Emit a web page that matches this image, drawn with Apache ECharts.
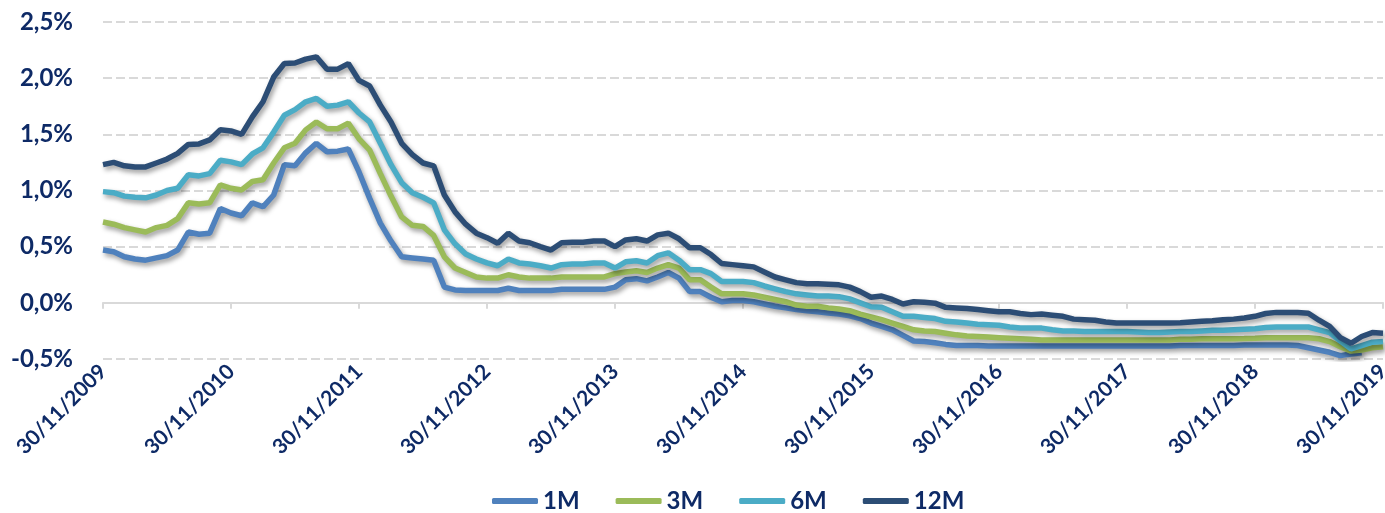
<!DOCTYPE html>
<html>
<head>
<meta charset="utf-8">
<script src="https://cdn.jsdelivr.net/npm/echarts@6/dist/echarts.min.js"></script>
<style>html,body{margin:0;padding:0;background:#fff}#c{width:1385px;height:513px}</style>
</head>
<body>
<div id="c"></div>
<script>
// Month-end dates from 30/11/2009 to 30/11/2019 (121 months)
function monthEnds(y0, m0, n) {
  var out = [];
  for (var k = 0; k < n; k++) {
    var m = m0 + k, y = y0 + Math.floor((m - 1) / 12), mm = ((m - 1) % 12) + 1;
    var d = new Date(y, mm, 0).getDate();
    out.push((d < 10 ? '0' : '') + d + '/' + (mm < 10 ? '0' : '') + mm + '/' + y);
  }
  return out;
}
var categories = monthEnds(2009, 11, 121);

var yTicks = [-0.5, 0, 0.5, 1, 1.5, 2, 2.5];
var seriesNames = ['1M', '3M', '6M', '12M'];

var m1 = [0.47,0.455,0.41,0.39,0.38,0.40,0.42,0.47,0.63,0.61,0.62,0.84,0.80,0.775,0.89,0.855,0.96,1.23,1.22,1.335,1.42,1.345,1.35,1.37,1.165,
0.93,0.71,0.55,0.41,0.40,0.39,0.38,0.14,0.115,0.11,0.11,0.11,0.11,0.13,0.11,0.11,0.11,0.11,0.12,0.12,0.12,0.12,0.12,
0.14,0.205,0.215,0.195,0.23,0.27,0.22,0.10,0.10,0.05,0.01,0.02,0.02,0.01,-0.01,-0.03,-0.045,-0.06,-0.07,-0.08,-0.09,-0.10,-0.115,-0.14,
-0.18,-0.21,-0.24,-0.29,-0.34,-0.345,-0.355,-0.37,-0.38,-0.38,-0.38,-0.385,-0.385,-0.385,-0.385,-0.385,-0.385,-0.385,-0.385,-0.385,-0.385,-0.385,
-0.385,-0.385,-0.385,-0.385,-0.385,-0.385,-0.385,-0.38,-0.38,-0.38,-0.38,-0.38,-0.38,-0.375,-0.375,-0.375,-0.375,-0.375,
-0.38,-0.40,-0.42,-0.44,-0.47,-0.455,-0.445];

var m3 = [0.72,0.70,0.67,0.65,0.63,0.67,0.69,0.75,0.89,0.88,0.89,1.05,1.02,1.005,1.08,1.095,1.245,1.38,1.42,1.54,1.61,1.55,1.55,1.60,1.46,
1.36,1.15,0.95,0.765,0.69,0.68,0.60,0.41,0.31,0.27,0.23,0.22,0.22,0.25,0.23,0.22,0.22,0.22,0.23,0.23,0.23,0.23,0.23,
0.26,0.275,0.285,0.27,0.31,0.34,0.31,0.205,0.205,0.14,0.08,0.08,0.08,0.07,0.05,0.03,0.01,-0.02,-0.03,-0.03,-0.045,-0.055,-0.07,-0.10,
-0.125,-0.15,-0.18,-0.21,-0.24,-0.25,-0.255,-0.27,-0.285,-0.295,-0.30,-0.305,-0.31,-0.315,-0.32,-0.325,-0.33,-0.33,-0.33,-0.33,-0.33,-0.33,
-0.33,-0.33,-0.33,-0.33,-0.33,-0.33,-0.33,-0.325,-0.325,-0.32,-0.32,-0.32,-0.32,-0.318,-0.315,-0.31,-0.31,-0.31,-0.31,-0.31,
-0.32,-0.345,-0.39,-0.43,-0.42,-0.40,-0.39];

var m6 = [0.99,0.98,0.95,0.94,0.935,0.96,1.00,1.02,1.14,1.13,1.15,1.27,1.255,1.23,1.325,1.38,1.52,1.67,1.72,1.79,1.82,1.75,1.76,1.79,1.69,
1.61,1.42,1.23,1.07,0.98,0.94,0.89,0.65,0.525,0.435,0.39,0.355,0.33,0.39,0.355,0.345,0.33,0.31,0.34,0.345,0.345,0.355,0.355,
0.31,0.365,0.375,0.355,0.42,0.445,0.38,0.295,0.295,0.26,0.19,0.19,0.19,0.18,0.15,0.125,0.10,0.08,0.07,0.06,0.06,0.055,0.035,0.0,
-0.035,-0.04,-0.08,-0.12,-0.12,-0.13,-0.14,-0.165,-0.17,-0.18,-0.19,-0.195,-0.20,-0.215,-0.225,-0.225,-0.225,-0.24,-0.25,-0.25,-0.255,-0.255,
-0.255,-0.255,-0.255,-0.26,-0.265,-0.265,-0.26,-0.255,-0.255,-0.25,-0.245,-0.245,-0.24,-0.235,-0.23,-0.22,-0.215,-0.215,-0.215,-0.215,
-0.24,-0.265,-0.34,-0.41,-0.38,-0.35,-0.345];

var m12 = [1.23,1.25,1.22,1.21,1.21,1.245,1.28,1.33,1.41,1.415,1.45,1.54,1.53,1.50,1.655,1.79,2.01,2.13,2.135,2.17,2.19,2.08,2.08,2.13,1.98,
1.93,1.76,1.61,1.42,1.32,1.245,1.22,0.96,0.81,0.70,0.62,0.58,0.53,0.62,0.55,0.535,0.50,0.47,0.535,0.54,0.54,0.55,0.55,
0.50,0.56,0.57,0.55,0.605,0.62,0.57,0.49,0.49,0.43,0.35,0.34,0.33,0.32,0.275,0.23,0.205,0.18,0.17,0.17,0.165,0.16,0.14,0.10,
0.05,0.06,0.03,-0.01,0.01,0.005,-0.003,-0.04,-0.045,-0.05,-0.06,-0.07,-0.08,-0.08,-0.095,-0.105,-0.10,-0.11,-0.12,-0.145,-0.15,-0.155,
-0.17,-0.18,-0.18,-0.18,-0.18,-0.18,-0.18,-0.177,-0.17,-0.165,-0.16,-0.15,-0.145,-0.135,-0.12,-0.095,-0.085,-0.085,-0.087,-0.092,
-0.155,-0.21,-0.31,-0.36,-0.30,-0.265,-0.27];

var seriesData = [m1, m3, m6, m12];
var colors = ['#4F81BD', '#9BBB59', '#4BACC6', '#2C4D75'];
var textColor = '#0E2A66';
var fontFam = 'Lato, "Open Sans", sans-serif';

function novLabel(v) { return v.slice(3, 5) === '11' ? '30/11/' + v.slice(6) : ''; }

var chart = echarts.init(document.getElementById('c'), null, {renderer: 'canvas'});
chart.setOption({
  animation: false,
  backgroundColor: '#ffffff',
  color: colors,
  grid: {left: 103, right: 2, top: 22, bottom: 154, containLabel: false, outerBoundsMode: 'none'},
  legend: {
    left: 487, top: 484,
    itemWidth: 46, itemHeight: 6, itemGap: 36,
    icon: 'roundRect',
    textStyle: {color: textColor, fontFamily: fontFam, fontWeight: 'bold', fontSize: 24},
    data: seriesNames
  },
  xAxis: [{
    type: 'category',
    data: categories,
    boundaryGap: false,
    position: 'bottom',
    axisLine: {show: false, onZero: false},
    axisTick: {show: false},
    axisLabel: {
      interval: 11, rotate: 45, margin: 9,
      color: textColor, fontFamily: fontFam, fontWeight: 'bold', fontSize: 21,
      formatter: novLabel
    },
    splitLine: {show: false}
  }, {
    type: 'category',
    data: categories,
    boundaryGap: false,
    position: 'bottom',
    axisLine: {show: true, onZero: true, lineStyle: {color: '#D9D9D9', width: 2}},
    axisTick: {show: true, interval: 11, length: 6, lineStyle: {color: '#D9D9D9', width: 2}},
    axisLabel: {show: false},
    splitLine: {show: false}
  }],
  yAxis: {
    type: 'value',
    min: -0.5, max: 2.5, interval: 0.5,
    axisLine: {show: false},
    axisTick: {show: false},
    axisLabel: {
      margin: 30,
      color: textColor, fontFamily: fontFam, fontWeight: 'bold', fontSize: 24,
      formatter: function (v) { return v.toFixed(1).replace('.', ',') + '%'; }
    },
    splitLine: {show: true, lineStyle: {color: '#D9D9D9', width: 2, type: [9, 4]}}
  },
  series: seriesNames.map(function (n, k) {
    return {
      name: n, type: 'line', data: seriesData[k], xAxisIndex: 0,
      symbol: 'none', smooth: false,
      lineStyle: {width: 5.5, color: colors[k], shadowColor: 'rgba(0,0,0,0.4)', shadowBlur: 5, shadowOffsetX: 2, shadowOffsetY: 3},
      itemStyle: {color: colors[k]},
      z: 2 + k
    };
  })
});
</script>
</body>
</html>
